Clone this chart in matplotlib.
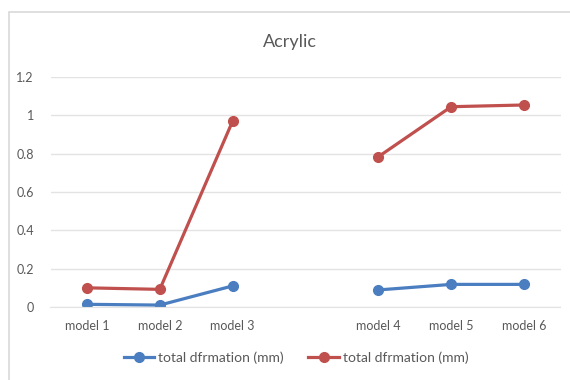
import numpy as np
import matplotlib.pyplot as plt
from matplotlib.patches import Rectangle

plt.rcParams['font.family'] = ['Lato', 'DejaVu Sans']

# the empty slot between model 3 and model 4 is a blank category
models = ['model 1', 'model 2', 'model 3', '', 'model 4', 'model 5', 'model 6']
blue_vals = [0.014, 0.010, 0.110, np.nan, 0.089, 0.118, 0.118]
red_vals = [0.100, 0.092, 0.970, np.nan, 0.784, 1.045, 1.054]
series_label = 'total dfrmation (mm)'
yticks = [0, 0.2, 0.4, 0.6, 0.8, 1.0, 1.2]
ytick_labels = ['0', '0.2', '0.4', '0.6', '0.8', '1', '1.2']

W, H = 570, 380
fig = plt.figure(figsize=(W / 100, H / 100), dpi=100)
fig.patches.append(Rectangle((9 / W, -0.1), 1.2, (H - 12) / H + 0.1,
                             transform=fig.transFigure, fill=False,
                             edgecolor='#d9d9d9', linewidth=1.2))

ax = fig.add_axes([50.5 / W, 1 - 307 / H, 510 / W, 230 / H])
x = np.arange(len(models))
ax.plot(x, blue_vals, color='#4A7EC0', lw=2.3, marker='o', ms=7, label=series_label)
ax.plot(x, red_vals, color='#C0504D', lw=2.3, marker='o', ms=7, label=series_label)

ax.set_xlim(-0.5, len(models) - 0.5)
ax.set_ylim(0, 1.2)
ax.set_yticks(yticks)
ax.set_yticklabels(ytick_labels)
ax.set_xticks(x)
ax.set_xticklabels(models)
ax.tick_params(length=0, labelsize=9, colors='#595959')
ax.tick_params(axis='y', pad=12)
ax.tick_params(axis='x', pad=9)
ax.grid(axis='y', color='#e3e3e3', lw=1)
ax.set_axisbelow(True)
for s in ax.spines.values():
    s.set_visible(False)
ax.spines['bottom'].set_visible(True)
ax.spines['bottom'].set_color('#e3e3e3')

fig.text(290 / W, 1 - 42 / H, 'Acrylic', ha='center', va='center',
         fontsize=13, color='#595959')
fig.legend(loc='center', bbox_to_anchor=(296 / W, 1 - 358 / H), ncol=2,
           frameon=False, fontsize=10, labelcolor='#595959',
           handlelength=2.2, columnspacing=1.8, handletextpad=0.25)

fig.savefig('out.png', dpi=100)
